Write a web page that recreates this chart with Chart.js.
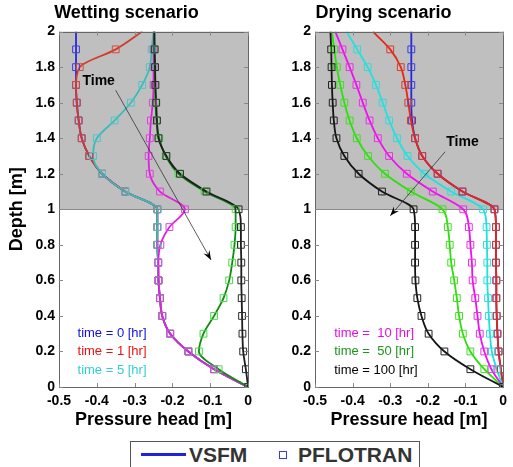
<!DOCTYPE html>
<html>
<head>
<meta charset="utf-8">
<script src="https://cdn.jsdelivr.net/npm/chart.js@4.4.0/dist/chart.umd.min.js"></script>
<style>
    body { margin: 0; background: #fff; font-family: "Liberation Sans", Arial, sans-serif; }
    #wrap { position: relative; width: 513px; height: 467px; overflow: hidden; }
    .box { position: absolute; top: 0; height: 467px; }
    #legend {
        position: absolute; left: 130px; top: 441px; width: 288px; height: 40px;
        border: 1px solid #555; background: #fff;
    }
    #legend .ln { position: absolute; left: 10px; top: 11px; width: 45px; height: 3px; background: #2020e0; }
    #legend .sq { position: absolute; left: 148px; top: 9px; width: 6px; height: 6px; border: 1px solid #3a3ae8; }
    #legend span { position: absolute; top: 1px; font: bold 21px "Liberation Sans", Arial, sans-serif; color: #333; }
</style>
</head>
<body>
<div id="wrap">
    <div class="box" style="left:0;width:258px"><canvas id="wetChart"></canvas></div>
    <div class="box" style="left:258px;width:255px"><canvas id="dryChart"></canvas></div>
    <div id="legend">
        <div class="ln"></div><span style="left:58px">VSFM</span>
        <div class="sq"></div><span style="left:167px">PFLOTRAN</span>
    </div>
</div>
<script>
// depth of each sample [m], bottom to top
const depth = [0, 0.1, 0.2, 0.3, 0.4, 0.5, 0.6, 0.7, 0.8, 0.9, 1.0,
               1.1, 1.2, 1.3, 1.4, 1.5, 1.6, 1.7, 1.8, 1.9, 2.0];

// wetting scenario, pressure head [m] at each depth
const wet0   = [0, -0.09, -0.158, -0.206, -0.227, -0.233, -0.237, -0.238, -0.24, -0.24, -0.24,
                -0.325, -0.386, -0.42, -0.44, -0.448, -0.453, -0.455, -0.455, -0.455, -0.455];
const wet1   = [0, -0.09, -0.158, -0.206, -0.227, -0.233, -0.237, -0.238, -0.24, -0.24, -0.24,
                -0.325, -0.386, -0.42, -0.44, -0.448, -0.453, -0.455, -0.445, -0.35, -0.28];
const wet5   = [0, -0.09, -0.158, -0.206, -0.227, -0.233, -0.237, -0.238, -0.24, -0.24, -0.24,
                -0.325, -0.386, -0.41, -0.4, -0.353, -0.31, -0.28, -0.26, -0.255, -0.25];
const wet10  = [0, -0.09, -0.158, -0.206, -0.227, -0.233, -0.237, -0.237, -0.232, -0.208, -0.167,
                -0.233, -0.26, -0.263, -0.26, -0.257, -0.252, -0.25, -0.25, -0.25, -0.248];
const wet50  = [0, -0.078, -0.13, -0.118, -0.09, -0.065, -0.05, -0.042, -0.036, -0.033, -0.033,
                -0.115, -0.184, -0.218, -0.235, -0.242, -0.245, -0.246, -0.247, -0.248, -0.248];
const wet100 = [0, -0.006, -0.013, -0.015, -0.016, -0.017, -0.018, -0.018, -0.019, -0.019, -0.025,
                -0.11, -0.18, -0.216, -0.237, -0.241, -0.243, -0.245, -0.246, -0.247, -0.248];

// drying scenario
const dry0   = [0, -0.006, -0.012, -0.015, -0.017, -0.018, -0.018, -0.019, -0.019, -0.019, -0.023,
                -0.108, -0.174, -0.215, -0.234, -0.242, -0.244, -0.244, -0.244, -0.244, -0.244];
const dry1   = [0, -0.006, -0.012, -0.015, -0.017, -0.018, -0.018, -0.019, -0.019, -0.019, -0.023,
                -0.108, -0.174, -0.215, -0.234, -0.245, -0.252, -0.26, -0.272, -0.3, -0.346];
const dry5   = [0, -0.017, -0.03, -0.035, -0.038, -0.04, -0.042, -0.042, -0.043, -0.044, -0.053,
                -0.138, -0.209, -0.254, -0.282, -0.303, -0.32, -0.338, -0.36, -0.388, -0.416];
const dry10  = [0, -0.031, -0.05, -0.062, -0.068, -0.074, -0.081, -0.083, -0.087, -0.091, -0.106,
                -0.187, -0.256, -0.303, -0.333, -0.355, -0.373, -0.39, -0.408, -0.427, -0.446];
const dry50  = [0, -0.05, -0.087, -0.107, -0.117, -0.123, -0.13, -0.138, -0.142, -0.147, -0.161,
                -0.245, -0.314, -0.359, -0.389, -0.408, -0.422, -0.433, -0.442, -0.449, -0.455];
const dry100 = [0, -0.087, -0.156, -0.198, -0.217, -0.228, -0.233, -0.234, -0.234, -0.234, -0.238,
                -0.322, -0.384, -0.422, -0.443, -0.45, -0.453, -0.455, -0.456, -0.457, -0.459];

const xTicks = [-0.5, -0.4, -0.3, -0.2, -0.1, 0];
const yTicks = [0, 0.2, 0.4, 0.6, 0.8, 1, 1.2, 1.4, 1.6, 1.8, 2];
const wetLabels = ['time = 0 [hr]', 'time = 1 [hr]', 'time = 5 [hr]'];
const dryLabels = ['time =  10 [hr]', 'time =  50 [hr]', 'time = 100 [hr]'];

const FONT = '"Liberation Sans", Arial, sans-serif';

function toPoints(vals) {
    return vals.map((v, i) => ({ x: v, y: depth[i] }));
}

// solid VSFM line plus the open PFLOTRAN squares (no square at the top node)
function series(vals, lineColor, markColor, order) {
    return [{
        data: toPoints(vals),
        borderColor: lineColor,
        borderWidth: 1.8,
        pointRadius: 0,
        cubicInterpolationMode: 'monotone',
        order: order + 10
    }, {
        data: toPoints(vals).slice(0, 20),
        showLine: false,
        pointStyle: 'rect',
        pointRadius: 4.8,
        pointBorderWidth: 1,
        pointBorderColor: markColor,
        pointBackgroundColor: 'rgba(0,0,0,0)',
        order: order
    }];
}

// gray upper layer, frame, inner ticks and the text notes
const panelPlugin = {
    id: 'panel',
    beforeDatasetsDraw(chart, args, opts) {
        const { ctx, chartArea: a, scales: { y } } = chart;
        const top = y.getPixelForValue(2), mid = y.getPixelForValue(1);
        ctx.save();
        ctx.fillStyle = '#bfbfbf';
        ctx.fillRect(a.left, top, a.right - a.left, mid - top);
        ctx.strokeStyle = '#8a8a8a';
        ctx.lineWidth = 1;
        ctx.beginPath();
        ctx.moveTo(a.left, Math.round(mid) + 0.5);
        ctx.lineTo(a.right, Math.round(mid) + 0.5);
        ctx.stroke();
        ctx.restore();
    },
    afterDatasetsDraw(chart, args, opts) {
        const { ctx, chartArea: a, scales: { x, y } } = chart;
        ctx.save();
        ctx.strokeStyle = '#666';
        ctx.lineWidth = 1;
        ctx.strokeRect(Math.round(a.left) + 0.5, Math.round(a.top) + 0.5,
            Math.round(a.right - a.left), Math.round(a.bottom - a.top));
        ctx.strokeStyle = '#888';
        ctx.beginPath();
        xTicks.forEach(v => {
            const px = Math.round(x.getPixelForValue(v)) + 0.5;
            ctx.moveTo(px, a.bottom); ctx.lineTo(px, a.bottom - 4);
            ctx.moveTo(px, a.top); ctx.lineTo(px, a.top + 4);
        });
        yTicks.forEach(v => {
            const py = Math.round(y.getPixelForValue(v)) + 0.5;
            ctx.moveTo(a.left, py); ctx.lineTo(a.left + 4, py);
            ctx.moveTo(a.right, py); ctx.lineTo(a.right - 4, py);
        });
        ctx.stroke();

        // "Time" arrow
        const t = opts.time;
        const x0 = x.getPixelForValue(t.from[0]), y0 = y.getPixelForValue(t.from[1]);
        const x1 = x.getPixelForValue(t.to[0]), y1 = y.getPixelForValue(t.to[1]);
        ctx.strokeStyle = '#333';
        ctx.lineWidth = 0.8;
        ctx.beginPath();
        ctx.moveTo(x0, y0); ctx.lineTo(x1, y1);
        ctx.stroke();
        const ang = Math.atan2(y1 - y0, x1 - x0);
        ctx.fillStyle = '#000';
        ctx.beginPath();
        ctx.moveTo(x1, y1);
        ctx.lineTo(x1 - 10 * Math.cos(ang - 0.35), y1 - 10 * Math.sin(ang - 0.35));
        ctx.lineTo(x1 - 6 * Math.cos(ang), y1 - 6 * Math.sin(ang));
        ctx.lineTo(x1 - 10 * Math.cos(ang + 0.35), y1 - 10 * Math.sin(ang + 0.35));
        ctx.closePath();
        ctx.fill();
        ctx.font = 'bold 14px ' + FONT;
        ctx.textBaseline = 'middle';
        ctx.fillText('Time', x.getPixelForValue(t.label[0]), y.getPixelForValue(t.label[1]));

        // time legend inside the plot
        ctx.font = '13px ' + FONT;
        opts.notes.forEach((txt, i) => {
            ctx.fillStyle = opts.noteColors[i];
            ctx.fillText(txt, x.getPixelForValue(opts.noteX), y.getPixelForValue(opts.noteY[i]));
        });
        ctx.restore();
    }
};

function fmtTick(v) {
    return String(Math.round(v * 10) / 10);
}

function makeChart(id, title, datasets, yWidth, padRight, showYTitle, panelOpts) {
    return new Chart(id, {
        type: 'line',
        data: { datasets: datasets },
        plugins: [panelPlugin],
        options: {
            indexAxis: 'y',
            responsive: true,
            maintainAspectRatio: false,
            animation: false,
            layout: { padding: { left: 0, right: padRight, top: 0, bottom: 36 } },
            scales: {
                x: {
                    type: 'linear', min: -0.5, max: 0,
                    afterFit: s => { s.height = 44; },
                    afterBuildTicks: s => { s.ticks = xTicks.map(v => ({ value: v })); },
                    grid: { display: false, drawTicks: false },
                    border: { display: false },
                    ticks: { color: '#000', font: { family: FONT, size: 14, weight: 'bold' },
                             padding: 6, maxRotation: 0, autoSkip: false, callback: fmtTick },
                    title: { display: true, text: 'Pressure head [m]', color: '#000',
                             font: { family: FONT, size: 18, weight: 'bold' }, padding: 0 }
                },
                y: {
                    type: 'linear', min: 0, max: 2,
                    afterFit: s => { s.width = yWidth; },
                    afterBuildTicks: s => { s.ticks = yTicks.map(v => ({ value: v })); },
                    grid: { display: false, drawTicks: false },
                    border: { display: false },
                    ticks: { color: '#000', font: { family: FONT, size: 14, weight: 'bold' },
                             padding: 4, autoSkip: false, callback: fmtTick },
                    title: { display: showYTitle, text: 'Depth [m]', color: '#000',
                             font: { family: FONT, size: 18, weight: 'bold' },
                             padding: { top: 6, bottom: 0 } }
                }
            },
            plugins: {
                legend: { display: false },
                tooltip: { enabled: false },
                title: { display: true, text: title, color: '#000',
                         font: { family: FONT, size: 18, weight: 'bold' },
                         padding: { top: 2, bottom: 8 } },
                panel: panelOpts
            }
        }
    });
}

const wetSets = [].concat(
    series(wet0, '#2828d8', '#3c3ce0', 6),
    series(wet1, '#d23a2a', '#d84a38', 5),
    series(wet5, '#3cbaba', '#4cc6c6', 4),
    series(wet10, '#e020e0', '#e040e0', 3),
    series(wet50, '#128a12', '#44dd44', 2),
    series(wet100, '#1e1e1e', '#2a2a2a', 1)
);
const drySets = [].concat(
    series(dry0, '#2828d8', '#3c3ce0', 6),
    series(dry1, '#e42818', '#dd3a2a', 5),
    series(dry5, '#22e0e0', '#30dcdc', 4),
    series(dry10, '#ee10ee', '#ea30ea', 3),
    series(dry50, '#30dd10', '#40e020', 2),
    series(dry100, '#141414', '#202020', 1)
);

makeChart('wetChart', 'Wetting scenario', wetSets, 59, 5, true, {
    time: { label: [-0.438, 1.72], from: [-0.35, 1.67], to: [-0.098, 0.715] },
    notes: wetLabels,
    noteColors: ['#1010e0', '#ee1010', '#30d0d0'],
    noteX: -0.451,
    noteY: [0.3, 0.2, 0.095]
});
makeChart('dryChart', 'Drying scenario', drySets, 57, 4, false, {
    time: { label: [-0.151, 1.38], from: [-0.154, 1.324], to: [-0.3, 0.963] },
    notes: dryLabels,
    noteColors: ['#e010e0', '#1e961e', '#000'],
    noteX: -0.449,
    noteY: [0.3, 0.2, 0.095]
});
</script>
</body>
</html>
